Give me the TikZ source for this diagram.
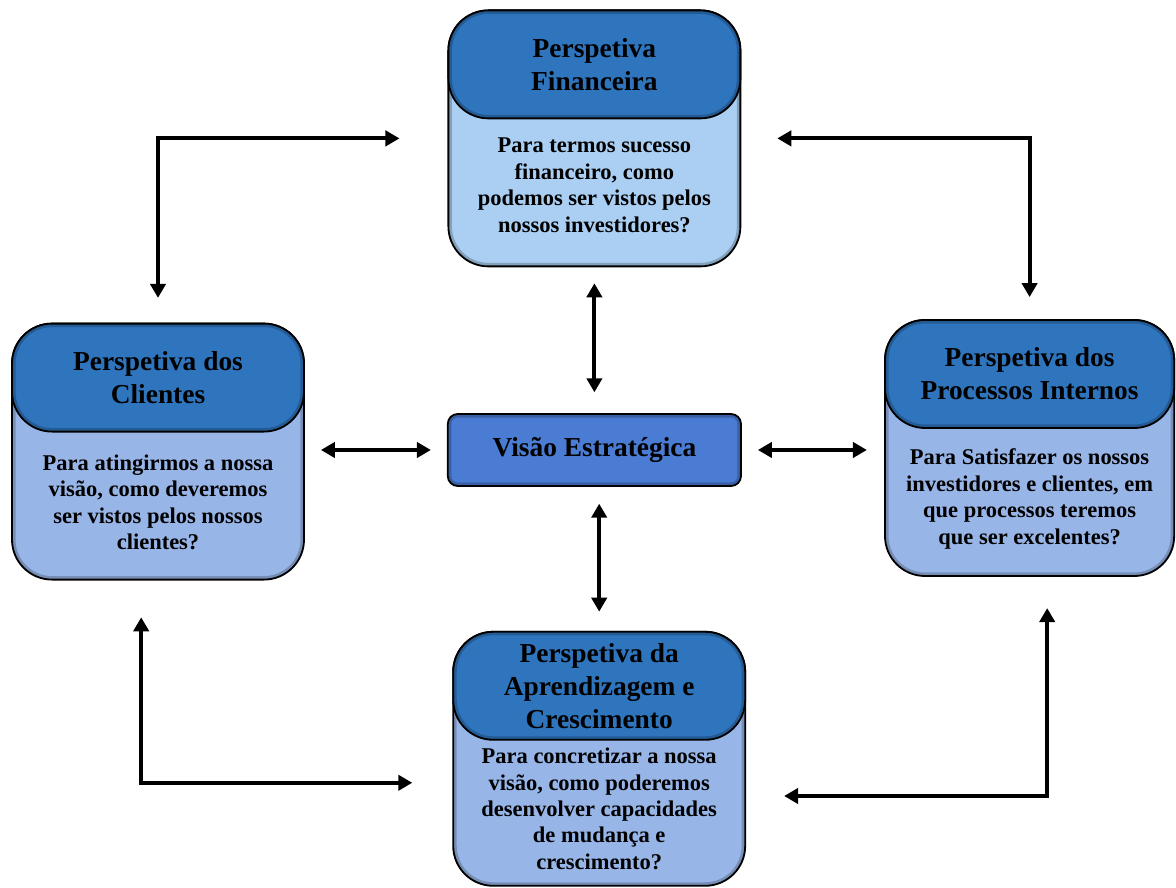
\documentclass[tikz,border=0pt]{standalone}
\usepackage{fontspec}
\setmainfont{Liberation Serif}
\usetikzlibrary{arrows.meta, positioning, calc}
\definecolor{azulcabeca}{RGB}{47,117,190}
\definecolor{corpoclaro}{RGB}{170,207,242}
\definecolor{corpoazul}{RGB}{152,181,232}
\definecolor{azulcentro}{RGB}{74,124,212}

\begin{document}
\begin{tikzpicture}[
    font=\bfseries,
    relevo/.style={path picture={\draw[line width=5pt, black, opacity=0.22, rounded corners=#1]
                   (path picture bounding box.south west) rectangle (path picture bounding box.north east);}},
    caixa/.style={draw, line width=1.3pt, rounded corners=1cm, minimum width=7.3cm,
                  minimum height=6.4cm, fill=corpoazul, relevo=1cm},
    cabeca/.style={draw, line width=1.3pt, rounded corners=1cm, minimum width=7.3cm,
                   minimum height=2.7cm, inner sep=1pt, fill=azulcabeca, align=center, relevo=1cm,
                   anchor=north, font=\fontsize{19.5}{23.5}\selectfont\bfseries},
    texto/.style={align=center, font=\fontsize{16}{18.8}\selectfont\bfseries},
    seta/.style={{Triangle[length=3.5mm,width=3.8mm]}-{Triangle[length=3.5mm,width=3.8mm]},
                 line width=2.9pt}
  ]
    \useasboundingbox (0,0) rectangle (29.4,22.2);

    % perspetivas
    \node[caixa, fill=corpoclaro] (fin) at (14.86,18.74) {};
    \node[cabeca] (finH) at (fin.north) {Perspetiva\\Financeira};
    \node[texto, yshift=0.2cm] (finT) at ($(finH.south)!0.5!(fin.south)$)
      {Para termos sucesso\\financeiro, como\\podemos ser vistos pelos\\nossos investidores?};

    \node[caixa] (cli) at (3.95,10.91) {};
    \node[cabeca] (cliH) at (cli.north) {Perspetiva dos\\Clientes};
    \node[texto, yshift=0.1cm] (cliT) at ($(cliH.south)!0.5!(cli.south)$)
      {Para atingirmos a nossa\\visão, como deveremos\\ser vistos pelos nossos\\clientes?};

    \node[caixa, minimum width=7.23cm] (proc) at (25.74,11.0) {};
    \node[cabeca, minimum width=7.23cm] (procH) at (proc.north) {Perspetiva dos\\Processos Internos};
    \node[texto, yshift=0.1cm] (procT) at ($(procH.south)!0.5!(proc.south)$)
      {Para Satisfazer os nossos\\investidores e clientes, em\\que processos teremos\\que ser excelentes?};

    \node[caixa, minimum height=6.35cm] (apr) at (14.98,3.23) {};
    \node[cabeca] (aprH) at (apr.north) {Perspetiva da\\Aprendizagem e\\Crescimento};
    \node[texto, yshift=0.12cm] (aprT) at ($(aprH.south)!0.5!(apr.south)$)
      {Para concretizar a nossa\\visão, como poderemos\\desenvolver capacidades\\de mudança e\\crescimento?};

    \node[draw, line width=1.3pt, rounded corners=0.25cm, fill=azulcentro, relevo=0.25cm,
          minimum width=7.33cm, minimum height=1.8cm,
          font=\fontsize{19.5}{23}\selectfont\bfseries] (visao)
      at (14.86,10.95) {Visão Estratégica};

    % setas ao centro
    \draw[seta, shorten <=0.52cm, shorten >=0.4cm] (visao.north) -- (fin.south);
    \draw[seta, shorten <=0.42cm, shorten >=0.48cm] (apr.north |- visao.south) -- (apr.north);
    \draw[seta, shorten <=0.4cm, shorten >=0.4cm] (visao.west) -- (cli.east |- visao.west);
    \draw[seta, shorten <=0.4cm, shorten >=0.43cm] (visao.east) -- (proc.west |- visao.east);

    % setas entre perspetivas
    \draw[seta, shorten <=1.2cm, shorten >=0.62cm] (fin.west) -| (cli.north);
    \draw[seta, shorten <=0.9cm, shorten >=0.55cm] (fin.east) -| (proc.north);
    \draw[seta, shorten <=1cm, shorten >=0.92cm] ([yshift=-0.6cm]apr.west) -| ([xshift=-0.42cm]cli.south);
    \draw[seta, shorten <=0.95cm, shorten >=0.78cm] ([yshift=-0.93cm]apr.east) -| ([xshift=0.44cm]proc.south);
\end{tikzpicture}
\end{document}
